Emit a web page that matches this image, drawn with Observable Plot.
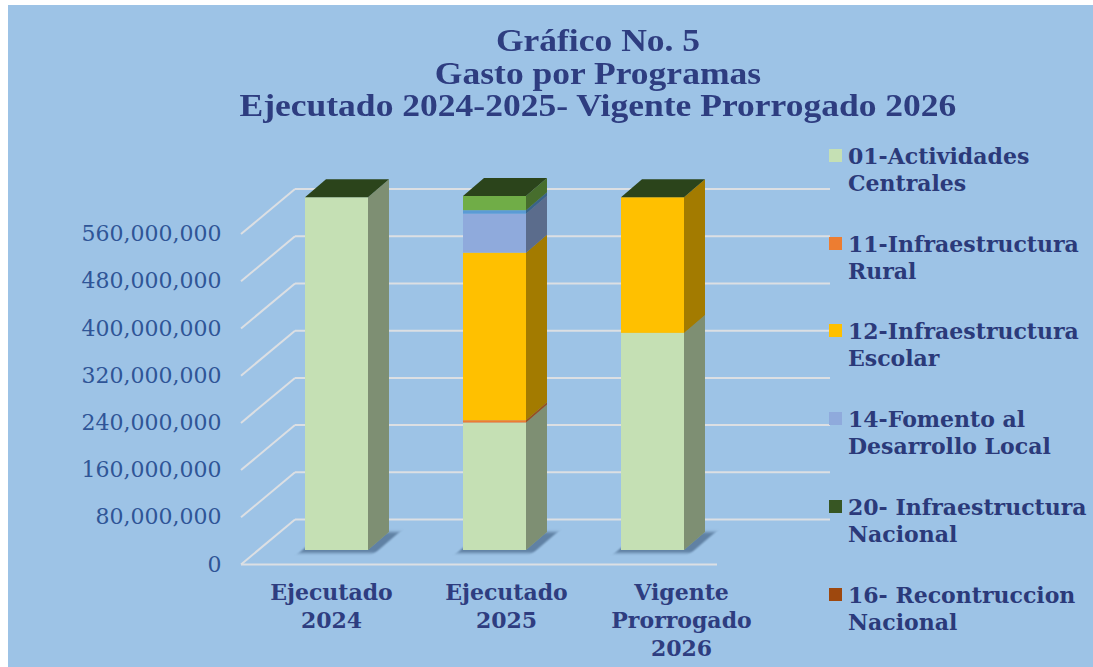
<!DOCTYPE html>
<html>
<head>
<meta charset="utf-8">
<script src="https://cdn.jsdelivr.net/npm/d3@7"></script>
<script src="https://cdn.jsdelivr.net/npm/@observablehq/plot@0.6"></script>
<style>
html, body { margin: 0; padding: 0; background: #ffffff; }
#wrap { position: relative; width: 1093px; height: 667px; background: #ffffff; overflow: hidden; }
#panel { position: absolute; left: 8px; top: 5px; right: 0; bottom: 0; background: #9DC3E6; }
#title { position: absolute; left: 103px; width: 990px; top: 24px; text-align: center;
  font-family: "Liberation Serif", serif; font-weight: bold; color: #2E3D80; font-size: 32px; line-height: 32.5px; }
#title span { display: inline-block; transform: scaleX(1.11); transform-origin: 50% 50%; white-space: nowrap; }
#chart { position: absolute; left: 0; top: 0; }
#xlabels { position: absolute; left: 0; top: 580px; }
#legend { position: absolute; left: 829px; top: 0; font-family: "DejaVu Serif", serif; font-weight: bold;
  color: #2B3A7A; font-size: 22px; line-height: 27px; }
.item { position: absolute; left: 0; width: 264px; }
.sw { position: absolute; left: 0; width: 13px; height: 13px; }
.lt { position: absolute; left: 19px; white-space: nowrap; }
</style>
</head>
<body>
<div id="wrap">
  <div id="panel"></div>
  <div id="title"><span>Gráfico No. 5</span><br><span>Gasto por Programas</span><br><span>Ejecutado 2024-2025- Vigente Prorrogado 2026</span></div>
  <div id="chart"></div>
  <div id="xlabels"></div>
  <div id="legend"></div>
</div>
<script>
// ---- data ----
const categorias = ["Ejecutado 2024", "Ejecutado 2025", "Vigente Prorrogado 2026"];
const etiquetasX = ["Ejecutado\n2024", "Ejecutado\n2025", "Vigente\nProrrogado\n2026"];
const programas = [
  "01-Actividades Centrales",
  "11-Infraestructura Rural",
  "12-Infraestructura Escolar",
  "14-Fomento al Desarrollo Local",
  "Serie sin leyenda (azul)",
  "Serie sin leyenda (verde)",
  "20- Infraestructura Nacional",
  "16- Recontruccion Nacional"
];
const colores = ["#C5E0B4", "#ED7D31", "#FFC000", "#8FAADC", "#5B9BD5", "#70AD47", "#375623", "#9E480E"];
const ejecutado2024 = [598e6, 0, 0, 0, 0, 0, 0, 0];
const ejecutado2025 = [216e6, 4e6, 284e6, 66e6, 6e6, 24e6, 0, 0];
const vigente2026 = [368e6, 0, 230e6, 0, 0, 0, 0, 0];
const yTicks = [0, 80e6, 160e6, 240e6, 320e6, 400e6, 480e6, 560e6];
const leyendaProgramas = [
  "01-Actividades Centrales",
  "11-Infraestructura Rural",
  "12-Infraestructura Escolar",
  "14-Fomento al Desarrollo Local",
  "20- Infraestructura Nacional",
  "16- Recontruccion Nacional"
];
const leyendaLineas = [
  ["01-Actividades", "Centrales"],
  ["11-Infraestructura", "Rural"],
  ["12-Infraestructura", "Escolar"],
  ["14-Fomento al", "Desarrollo Local"],
  ["20- Infraestructura", "Nacional"],
  ["16- Recontruccion", "Nacional"]
];

// ---- table ----
const series = [ejecutado2024, ejecutado2025, vigente2026];
const tabla = [];
categorias.forEach((c, i) => programas.forEach((p, j) => tabla.push({cat: c, prog: p, value: series[i][j]})));
const totales = categorias.map((c, i) => ({cat: c, total: d3.sum(series[i])}));

const colorTop = "#2B441B";
const grid = "#DCDFE3";
const serif = "DejaVu Serif, serif";

const chart = Plot.plot({
  width: 830,
  height: 667,
  marginLeft: 258,
  marginRight: 0,
  marginTop: 0,
  marginBottom: 0,
  style: {background: "transparent", overflow: "visible", fontFamily: serif},
  x: {domain: categorias, range: [305, 779], padding: 0, axis: null},
  y: {domain: [0, 640e6], range: [550, 172.4], axis: null},
  color: {domain: programas, range: colores},
  marks: [
    // back wall gridlines
    Plot.ruleY(yTicks, {y: d => d, dy: -31, insetLeft: 37, stroke: grid, strokeWidth: 2}),
    // side wall diagonals
    Plot.ruleY(yTicks, {y: d => d, dy: 14, insetLeft: -17, insetRight: 535, stroke: grid, strokeWidth: 2, ariaDescription: "diagonal"}),
    // floor front edge
    Plot.ruleY([0], {y: d => d, dy: 14, insetLeft: -17, insetRight: 113, stroke: grid, strokeWidth: 2}),
    // floor shadow under bars
    Plot.barY(totales, {x: "cat", y1: 0, y2: 0, fill: "#2E4A6E", fillOpacity: 0.55, insetLeft: -6, insetRight: 88, insetTop: -18, insetBottom: -3, ariaDescription: "shadow"}),
    // bar fronts
    Plot.barY(tabla, Plot.stackY({x: "cat", y: "value", fill: "prog", order: programas, insetLeft: 0, insetRight: 95})),
    // bar sides
    Plot.barY(tabla, Plot.stackY({x: "cat", y: "value", fill: "prog", order: programas, insetLeft: 63, insetRight: 74, ariaDescription: "side"})),
    Plot.barY(tabla, Plot.stackY({x: "cat", y: "value", z: "prog", order: programas, fill: "#000", fillOpacity: 0.36, insetLeft: 63, insetRight: 74, ariaDescription: "side"})),
    // bar tops
    Plot.barY(totales, {x: "cat", y1: "total", y2: "total", fill: colorTop, insetLeft: 0, insetRight: 95, insetTop: -18, insetBottom: 0, ariaDescription: "top"}),
    // y tick labels (front plane)
    Plot.text(yTicks, {y: d => d, text: d => d3.format(",")(d), frameAnchor: "left", textAnchor: "end", dx: -37, dy: 14,
      fill: "#2F5597", fontSize: 22, fontFamily: serif})
  ]
});

// 3D shear of side and top faces, diagonals of side wall
function elems(label, tag) {
  const out = [];
  chart.querySelectorAll(`[aria-description="${label}"]`).forEach(e => {
    if (e.tagName.toLowerCase() === tag) out.push(e);
    else e.querySelectorAll(tag).forEach(c => out.push(c));
  });
  return out;
}
const kY = -18 / 21;
elems("side", "rect").forEach(r => {
  const x0 = +r.getAttribute("x");
  r.setAttribute("transform", `matrix(1,${kY},0,1,0,${-kY * x0})`);
});
const cX = -21 / 18;
elems("top", "rect").forEach(r => {
  const y0 = +r.getAttribute("y") + +r.getAttribute("height");
  r.setAttribute("transform", `matrix(1,0,${cX},1,${-cX * y0},0)`);
});
elems("shadow", "rect").forEach(r => {
  const y0 = +r.getAttribute("y") + +r.getAttribute("height");
  r.setAttribute("transform", `matrix(1,0,${cX},1,${-cX * y0},0)`);
  r.style.filter = "blur(1.5px)";
});
elems("diagonal", "line").forEach(l => {
  l.setAttribute("y2", +l.getAttribute("y1") - 45);
});
document.getElementById("chart").appendChild(chart);

// x category labels
const xl = Plot.plot({
  width: 830,
  height: 90,
  margin: 0,
  style: {background: "transparent", overflow: "visible"},
  x: {domain: categorias, range: [243.5, 768.5], axis: null},
  marks: [
    Plot.text(categorias, {x: d => d, text: (d, i) => etiquetasX[i], frameAnchor: "top", lineAnchor: "top",
      lineHeight: 1.27, fontSize: 22, fontWeight: "bold", fill: "#2E3D80", fontFamily: serif})
  ]
});
document.getElementById("xlabels").appendChild(xl);

// legend
const leg = document.getElementById("legend");
leyendaProgramas.forEach((p, i) => {
  const it = document.createElement("div");
  it.className = "item";
  it.style.top = (143 + 87.7 * i) + "px";
  const sw = document.createElement("div");
  sw.className = "sw";
  sw.style.top = "6px";
  sw.style.background = colores[programas.indexOf(p)];
  const t = document.createElement("div");
  t.className = "lt";
  t.innerHTML = leyendaLineas[i].join("<br>");
  it.appendChild(sw);
  it.appendChild(t);
  leg.appendChild(it);
});
</script>
</body>
</html>
